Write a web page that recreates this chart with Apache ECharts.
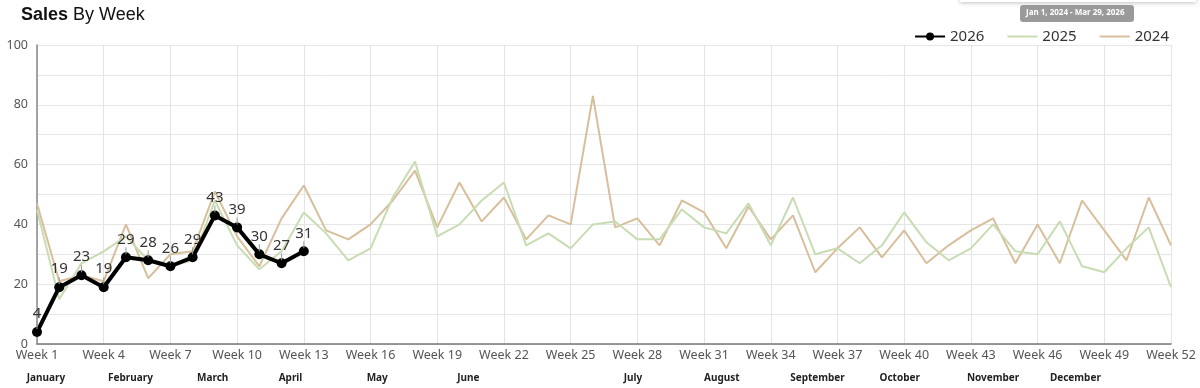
<!DOCTYPE html>
<html>
<head>
<meta charset="utf-8">
<script src="https://cdn.jsdelivr.net/npm/echarts@6/dist/echarts.min.js"></script>
<style>
html,body{margin:0;padding:0;background:#fff;}
#c{width:1200px;height:388px;}
</style>
</head>
<body>
<div id="c"></div>
<script>
const weeks = Array.from({length: 52}, (_, i) => 'Week ' + (i + 1));
const sales2026 = [4, 19, 23, 19, 29, 28, 26, 29, 43, 39, 30, 27, 31];
const sales2025 = [45, 15, 27, 31, 36, 28, 26, 28, 48, 33, 25, 31, 44, 37, 28, 32, 49, 61, 36, 40, 48, 54, 33, 37, 32, 40,
                   41, 35, 35, 45, 39, 37, 47, 33, 49, 30, 32, 27, 33, 44, 34, 28, 32, 40, 31, 30, 41, 26, 24, 32, 39, 19];
const sales2024 = [47, 21, 23, 21, 40, 22, 30, 31, 51, 36, 26, 42, 53, 38, 35, 40, 48, 58, 39, 54, 41, 49, 35, 43, 40, 83,
                   39, 42, 33, 48, 44, 32, 46, 35, 43, 24, 32, 39, 29, 38, 27, 33, 38, 42, 27, 40, 27, 48, 38, 28, 49, 33];
const monthNames = ['January', 'February', 'March', 'April', 'May', 'June', 'July', 'August', 'September', 'October', 'November', 'December'];
const monthWeekPos = [0.4, 4.2, 7.9, 11.4, 15.3, 19.4, 26.8, 30.8, 35.1, 38.8, 43.0, 46.7];
const yTicks = [0, 20, 40, 60, 80, 100];

const FONT = '"Noto Sans", "DejaVu Sans", sans-serif';
const chart = echarts.init(document.getElementById('c'), null, {renderer: 'canvas'});

chart.setOption({
  animation: false,
  backgroundColor: '#fff',
  title: {
    left: 16, top: 1,
    text: '{b|Sales} {n|By Week}',
    textStyle: {
      rich: {
        b: {fontFamily: '"Liberation Sans", sans-serif', fontWeight: 'bold', fontSize: 18, color: '#111'},
        n: {fontFamily: '"Liberation Sans", sans-serif', fontWeight: 'normal', fontSize: 18, color: '#111'}
      }
    }
  },
  graphic: [
    {type: 'rect', left: 960, top: -12, shape: {width: 236, height: 14}, style: {fill: '#fff', shadowBlur: 4, shadowColor: 'rgba(0,0,0,0.25)', shadowOffsetY: 1}},
    {type: 'rect', left: 1020, top: 5, shape: {width: 114, height: 17, r: 3}, style: {fill: '#9a9a9a'}},
    {type: 'text', left: 1026, top: 9, style: {text: 'Jan 1, 2024 - Mar 29, 2026', fill: '#fff', font: 'bold 8px "Noto Sans", sans-serif'}}
  ],
  legend: {
    right: 26, top: 24,
    itemWidth: 30, itemHeight: 10, itemGap: 22,
    textStyle: {fontFamily: FONT, fontSize: 15, color: '#333'},
    data: [
      {name: '2026'},
      {name: '2025', itemStyle: {opacity: 0}},
      {name: '2024', itemStyle: {opacity: 0}}
    ]
  },
  grid: {left: 37, right: 29, top: 45, bottom: 44, containLabel: false},
  xAxis: [
    {
      type: 'category',
      data: weeks,
      boundaryGap: false,
      axisLine: {lineStyle: {color: '#777', width: 1.5}},
      axisTick: {show: false},
      axisLabel: {interval: 2, color: '#555', fontFamily: FONT, fontSize: 12.5, margin: 5},
      splitLine: {show: true, interval: 2, lineStyle: {color: '#e4e4e4', width: 1}}
    },
    {
      type: 'value',
      min: 0, max: 51,
      position: 'bottom',
      offset: 21,
      axisLine: {show: false},
      axisTick: {show: false},
      splitLine: {show: false},
      axisLabel: {
        customValues: monthWeekPos,
        color: '#222', fontFamily: FONT, fontSize: 10, fontWeight: 'bold',
        formatter: function (v) {
          const i = monthWeekPos.findIndex(p => Math.abs(p - v) < 0.01);
          return i >= 0 ? monthNames[i] : '';
        }
      }
    }
  ],
  yAxis: {
    type: 'value',
    min: 0, max: 100, interval: 10,
    axisLine: {show: true, lineStyle: {color: '#888', width: 1.5}},
    axisTick: {show: false},
    axisLabel: {
      color: '#555', fontFamily: FONT, fontSize: 12.5, margin: 9,
      formatter: function (v) { return yTicks.indexOf(v) >= 0 ? String(v) : ''; }
    },
    splitLine: {lineStyle: {color: '#e6e6e6', width: 1}}
  },
  series: [
    {
      name: '2024', type: 'line', data: sales2024, xAxisIndex: 0,
      symbol: 'none', color: '#d7bf9b',
      lineStyle: {width: 2, color: '#d7bf9b'}, z: 2
    },
    {
      name: '2025', type: 'line', data: sales2025, xAxisIndex: 0,
      symbol: 'none', color: '#c8dcb3',
      lineStyle: {width: 2, color: '#c8dcb3'}, z: 3
    },
    {
      name: '2026', type: 'line', data: sales2026, xAxisIndex: 0,
      symbol: 'circle', symbolSize: 10, color: '#000',
      lineStyle: {width: 4, color: '#000'}, z: 5,
      label: {
        show: true, position: 'top', distance: -2,
        formatter: '{v|{c}}\n{t|}',
        rich: {
          v: {color: '#333', fontFamily: FONT, fontSize: 15, lineHeight: 16, align: 'center'},
          t: {width: 1, height: 7, backgroundColor: '#999', align: 'center'}
        }
      }
    }
  ]
});
</script>
</body>
</html>
